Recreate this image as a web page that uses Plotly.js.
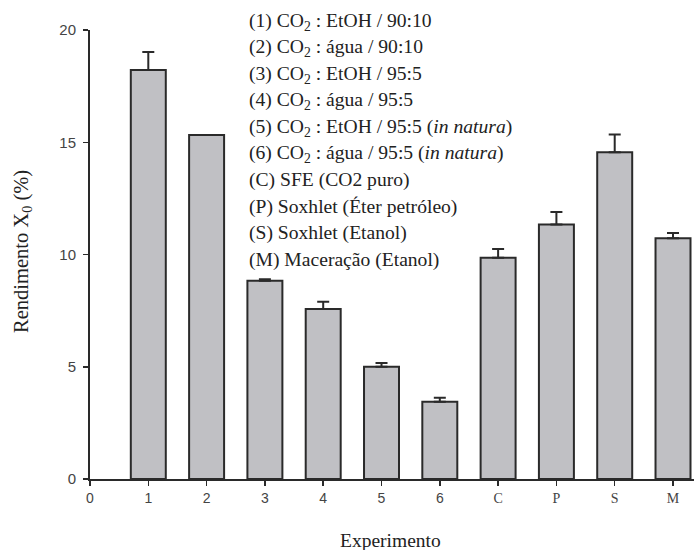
<!DOCTYPE html>
<html>
<head>
<meta charset="utf-8">
<script src="https://cdn.plot.ly/plotly-3.0.1.min.js"></script>
<style>html,body{margin:0;padding:0;background:#fff;}#chart{width:694px;height:550px;}</style>
</head>
<body>
<div id="chart"></div>
<script>
// Data
const positions = [1, 2, 3, 4, 5, 6, 7, 8, 9, 10];
const yields = [18.22, 15.32, 8.83, 7.57, 5.00, 3.44, 9.86, 11.34, 14.55, 10.72];
const errors = [0.80, 0.00, 0.07, 0.33, 0.17, 0.18, 0.38, 0.55, 0.79, 0.24];
const tickValues = [0, 1, 2, 3, 4, 5, 6, 7, 8, 9, 10];
const tickLabels = ['0', '1', '2', '3', '4', '5', '6', 'C', 'P', 'S', 'M'];
const legendLines = [
  '(1) CO<sub>2</sub> : EtOH / 90:10',
  '(2) CO<sub>2</sub> : água / 90:10',
  '(3) CO<sub>2</sub> : EtOH / 95:5',
  '(4) CO<sub>2</sub> : água / 95:5',
  '(5) CO<sub>2</sub> : EtOH / 95:5 (<i>in natura</i>)',
  '(6) CO<sub>2</sub> : água / 95:5 (<i>in natura</i>)',
  '(C) SFE (CO2 puro)',
  '(P) Soxhlet (Éter petróleo)',
  '(S) Soxhlet (Etanol)',
  '(M) Maceração (Etanol)'
];

const serif = 'Liberation Serif';
const sans = 'Liberation Sans';

const tickText = tickLabels.map(t => /[A-Z]/.test(t)
  ? '<span style="font-family:Liberation Serif">' + t + '</span>' : t);

const trace = {
  type: 'bar',
  x: positions,
  y: yields,
  width: 0.6,
  marker: {color: '#c0c0c4', line: {color: '#2a2a2a', width: 2}},
  error_y: {
    type: 'data', symmetric: false, array: errors,
    arrayminus: errors.map(() => 0),
    color: '#2a2a2a', thickness: 2, width: 6
  },
  hoverinfo: 'none'
};

// pixel helpers for annotation placement (plot area: x 90..694, y 30..479)
const plotH = 449;
const annotations = legendLines.map((t, i) => ({
  text: t,
  xref: 'paper', yref: 'paper',
  x: (247 - 90) / 604,
  y: (479 - (22 + 26.4 * i)) / plotH,
  xanchor: 'left', yanchor: 'middle',
  showarrow: false,
  font: {family: serif, size: 19.6, color: '#222'}
}));
annotations.push({
  text: 'Rendimento X<sub>0</sub> (%)',
  xref: 'paper', yref: 'paper',
  x: (22 - 90) / 604, y: (479 - 252) / plotH,
  xanchor: 'center', yanchor: 'middle',
  textangle: -90, showarrow: false,
  font: {family: serif, size: 20.5, color: '#222'}
});
annotations.push({
  text: 'Experimento',
  xref: 'paper', yref: 'paper',
  x: (390 - 90) / 604, y: (479 - 540) / plotH,
  xanchor: 'center', yanchor: 'middle',
  showarrow: false,
  font: {family: serif, size: 19.5, color: '#222'}
});

const layout = {
  width: 694, height: 550,
  margin: {l: 90, r: 0, t: 30, b: 71, pad: 0},
  paper_bgcolor: '#fff', plot_bgcolor: '#fff',
  showlegend: false,
  bargap: 0,
  xaxis: {
    range: [0, 10.36],
    tickmode: 'array', tickvals: tickValues, ticktext: tickText,
    showgrid: false, zeroline: false,
    showline: true, linecolor: '#2a2a2a', linewidth: 2,
    ticks: 'outside', ticklen: 5, tickwidth: 1.5, tickcolor: '#2a2a2a',
    tickfont: {family: sans, size: 14, color: '#444'}
  },
  yaxis: {
    range: [0, 20],
    tickvals: [0, 5, 10, 15, 20],
    showgrid: false, zeroline: false,
    showline: true, linecolor: '#2a2a2a', linewidth: 2,
    ticks: 'outside', ticklen: 5, tickwidth: 1.5, tickcolor: '#2a2a2a',
    tickfont: {family: sans, size: 15, color: '#444'},
    ticklabelstandoff: 4
  },
  annotations: annotations
};

Plotly.newPlot('chart', [trace], layout, {displayModeBar: false, staticPlot: true});
</script>
</body>
</html>
